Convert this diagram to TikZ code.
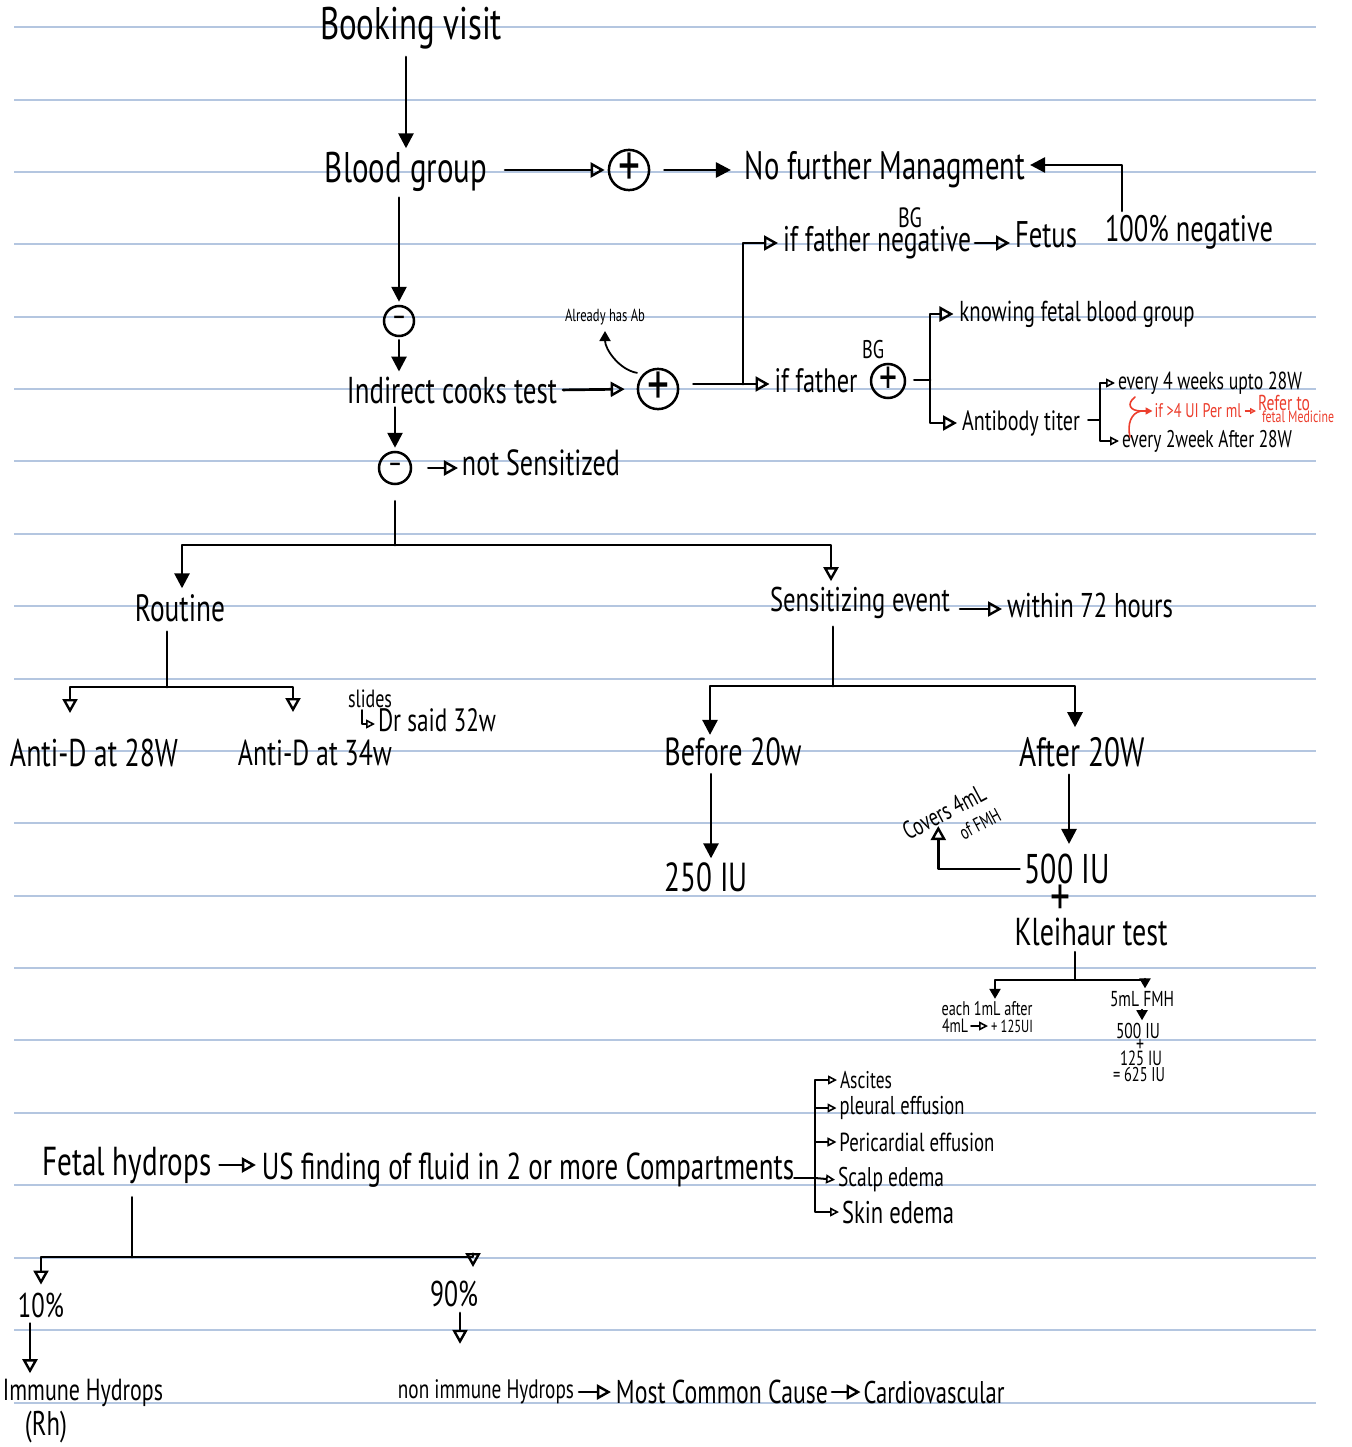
\documentclass[tikz,border=0pt]{standalone}
\usepackage{fontspec}
\usepackage{graphicx}
\usetikzlibrary{arrows.meta,calc}
\newfontfamily\hand[FakeStretch=0.72]{PT Sans}
\newcommand{\tw}[2]{\resizebox{#1pt}{!}{\hand #2}}
\definecolor{rulecol}{RGB}{180,198,224}
\definecolor{redink}{RGB}{236,62,45}
\begin{document}
\begin{tikzpicture}[x=1pt,y=-1pt,
 rule/.style={draw=rulecol,line width=1.2pt},
 ln/.style={line width=2.7pt,line join=round,line cap=round},
 lnthin/.style={line width=1.8pt,line join=round,line cap=round},
 arrF/.style={ln,-{Triangle[length=15pt,width=15pt]}},
 arrO/.style={ln,-{Triangle[open,length=14pt,width=15pt,line width=2.4pt]}},
 arrFs/.style={lnthin,-{Triangle[length=10pt,width=11pt]}},
 arrOs/.style={lnthin,-{Triangle[open,length=9pt,width=9pt,line width=1.6pt]}},
 t/.style={inner sep=0pt,outer sep=0pt},
 circ/.style={circle,draw,line width=2.5pt,inner sep=0pt},
]
\fill[white] (0,0) rectangle (1351,1447);
\useasboundingbox (0,0) rectangle (1351,1447);
\foreach \yy in {27,100,172,244,317,389,461,534,606,679,751,823,896,968,1040,1113,1185,1258,1330,1403}
  \draw[rule] (14,\yy) -- (1316,\yy);

% ---- nodes ----
\node[t] (booking) at (411,28) {\tw{182}{Booking visit}};
\node[t] (blood) at (406,172) {\tw{162}{Blood group}};
\node[circ,minimum size=40pt] (plus1) at (629,170) {\tw{22}{+}};
\node[t] (nofurther) at (885,170) {\tw{280}{No further Managment}};
\node[t] (neg100) at (1189,232) {\tw{168}{100\% negative}};
\node[t] (iffneg) at (877,243) {\tw{188}{if father negative}};
\node[t] (bg1) at (910,218) {\tw{24}{BG}};
\node[t] (fetus) at (1046,235) {\tw{62}{Fetus}};
\node[circ,minimum size=30pt] (minus1) at (399,321) {\tw{15}{–}};
\node[t] (indirect) at (452,390) {\tw{210}{Indirect cooks test}};
\node[circ,minimum size=40pt] (plus2) at (658,389) {\tw{22}{+}};
\node[t] (already) at (605,317) {\tw{80}{Already has Ab}};
\node[t] (iffpos) at (816,381) {\tw{83}{if father}};
\node[circ,minimum size=34pt] (plus3) at (888,381) {\tw{18}{+}};
\node[t] (bg2) at (873,350) {\tw{22}{BG}};
\node[t] (knowing) at (1077,314) {\tw{235}{knowing fetal blood group}};
\node[t] (antibody) at (1021,423) {\tw{118}{Antibody titer}};
\node[t] (every4) at (1210,383) {\tw{184}{every 4 weeks upto 28W}};
\node[t] (every2) at (1207,441) {\tw{170}{every 2week After 28W}};
\node[t,text=redink] (ifgt) at (1198,411) {\tw{87}{if >4 UI Per ml}};
\node[t,text=redink] (refer) at (1284,403) {\tw{52}{Refer to}};
\node[t,text=redink] (fetmed) at (1298,417) {\tw{72}{fetal Medicine}};
\node[circ,minimum size=32pt] (minus2) at (395,468) {\tw{15}{–}};
\node[t] (notsens) at (541,463) {\tw{158}{not Sensitized}};
\node[t] (routine) at (180,608) {\tw{90}{Routine}};
\node[t] (sens) at (860,603) {\tw{180}{Sensitizing event}};
\node[t] (within) at (1090,605) {\tw{166}{within 72 hours}};
\node[t] (antid28) at (94,753) {\tw{168}{Anti-D at 28W}};
\node[t] (antid34) at (315,753) {\tw{154}{Anti-D at 34w}};
\node[t] (slides) at (370,699) {\tw{44}{slides}};
\node[t] (drsaid) at (437,720) {\tw{118}{Dr said 32w}};
\node[t] (before) at (733,752) {\tw{137}{Before 20w}};
\node[t] (after) at (1082,752) {\tw{125}{After 20W}};
\node[t] (iu250) at (706,877) {\tw{83}{250 IU}};
\node[t] (iu500) at (1067,869) {\tw{85}{500 IU}};
\node[t] (plusk) at (1060,900) {\tw{20}{+}};
\node[t] (kleihaur) at (1091,932) {\tw{153}{Kleihaur test}};
\node[t,rotate=28] (covers) at (944,812) {\tw{90}{Covers 4mL}};
\node[t,rotate=28] (ofmh) at (980,824) {\tw{44}{of FMH}};
\node[t] (each1) at (987,1009) {\tw{91}{each 1mL after}};
\node[t] (ml4) at (955,1026) {\tw{26}{4mL}};
\node[t] (u125) at (1012,1026) {\tw{42}{+ 125UI}};
\node[t] (fmh5) at (1142,999) {\tw{64}{5mL FMH}};
\node[t] (iu500b) at (1138,1031) {\tw{44}{500 IU}};
\node[t] (plussm) at (1140,1045) {\tw{8}{+}};
\node[t] (iu125) at (1141,1058) {\tw{42}{125 IU}};
\node[t] (iu625) at (1139,1074) {\tw{52}{= 625 IU}};
\node[t] (fetalhyd) at (127,1165) {\tw{169}{Fetal hydrops}};
\node[t] (usfind) at (528,1170) {\tw{532}{US finding of fluid in 2 or more Compartments}};
\node[t] (ascites) at (866,1080) {\tw{52}{Ascites}};
\node[t] (pleural) at (902,1108) {\tw{125}{pleural effusion}};
\node[t] (pericard) at (917,1142) {\tw{155}{Pericardial effusion}};
\node[t] (scalp) at (891,1180) {\tw{106}{Scalp edema}};
\node[t] (skin) at (898,1212) {\tw{112}{Skin edema}};
\node[t] (p10) at (41,1305) {\tw{46}{10\%}};
\node[t] (p90) at (454,1294) {\tw{48}{90\%}};
\node[t] (immune) at (83,1393) {\tw{160}{Immune Hydrops}};
\node[t] (rh) at (46,1427) {\tw{42}{(Rh)}};
\node[t] (nonimm) at (486,1392) {\tw{176}{non immune Hydrops}};
\node[t] (most) at (722,1392) {\tw{212}{Most Common Cause}};
\node[t] (cardio) at (934,1392) {\tw{141}{Cardiovascular}};

% ---- connectors ----
\draw[arrF,shorten <=8pt,shorten >=4pt] (booking.south -| blood.north) -- (blood.north);
\draw[arrO,shorten <=18pt,shorten >=3pt] (blood.east |- plus1.west) -- (plus1.west);
\draw[arrF,shorten <=14pt,shorten >=14pt] (plus1.east) -- (nofurther.west);
\draw[arrF,shorten <=4pt,shorten >=5pt] ([xshift=-67pt]neg100.north) |- ([yshift=5pt]nofurther.east);
\draw[arrF,shorten <=6pt,shorten >=3pt] (blood.south -| minus1.north) -- (minus1.north);
\draw[arrF,shorten <=3pt,shorten >=5pt] (minus1.south) -- (minus1.south |- indirect.north);
\draw[arrO,shorten <=6pt,shorten >=12pt] (indirect.east) -- (plus2.west);
\draw[arrFs,shorten <=6pt,shorten >=6pt] (plus2.135) to[out=170,in=-90] (already.south);
\coordinate (jf) at (743,384);
\draw[ln,shorten <=14pt] (plus2.east |- jf) -- (jf);
\draw[arrO,shorten >=5pt] (jf) |- (iffneg.west);
\draw[arrO,shorten >=5pt] (jf) -- (jf -| iffpos.west);
\draw[arrO,shorten <=4pt,shorten >=5pt] (iffneg.east) -- (iffneg.east -| fetus.west);
\coordinate (b1) at (930,380);
\draw[ln,shorten <=8pt] (plus3.east |- b1) -- (b1);
\draw[arrO,shorten >=6pt] (b1) |- (knowing.west);
\draw[arrO,shorten >=5pt] (b1) |- (antibody.west);
\coordinate (b2) at (1100,420);
\draw[lnthin,shorten <=8pt] (antibody.east |- b2) -- (b2);
\draw[arrOs,shorten >=3pt] (b2) |- (every4.west);
\draw[arrOs,shorten >=3pt] (b2) |- (every2.west);
\coordinate (rc) at (1141,411);
\draw[redink,line width=1.6pt,line cap=round] (1135,397) .. controls (1126,404) and (1130,411) .. (rc);
\draw[redink,line width=1.6pt,line cap=round] (1130,437) .. controls (1127,424) and (1131,413) .. (rc);
\draw[redink,line width=1.6pt,-{Triangle[length=7pt,width=7pt]},shorten >=2pt] (rc) -- (ifgt.west);
\draw[redink,line width=1.4pt,-{Triangle[open,length=6pt,width=6pt]},shorten <=3pt,shorten >=2pt] (ifgt.east) -- (ifgt.east -| refer.west);
\draw[arrF,shorten <=4pt,shorten >=3pt] (indirect.south -| minus2.north) -- (minus2.north);
\draw[arrO,shorten <=16pt,shorten >=4pt] (minus2.east) -- (minus2.east -| notsens.west);
\coordinate (s1) at (395,545);
\draw[ln,shorten <=16pt] (minus2.south) -- (s1);
\draw[arrF,shorten >=6pt] (s1) -| ([xshift=2pt]routine.north);
\draw[arrO,shorten >=6pt] (s1) -| ([xshift=-29pt]sens.north);
\draw[arrO,shorten <=10pt,shorten >=5pt] ([yshift=-6pt]sens.east) -- ([yshift=-6pt]sens.east -| within.west);
\coordinate (r1) at (167,687);
\draw[ln,shorten <=10pt] (routine.south -| r1) -- (r1);
\draw[arrO,shorten >=26pt] (r1) -| ([xshift=-24pt]antid28.north);
\draw[arrO,shorten >=28pt] (r1) -| ([xshift=-22pt]antid34.north);
\draw[arrOs,shorten <=2pt,shorten >=3pt] ([xshift=-8pt]slides.south) |- ([yshift=-4pt]drsaid.west);
\coordinate (s2) at (833,686);
\draw[ln,shorten <=8pt] (sens.south -| s2) -- (s2);
\draw[arrF,shorten >=3pt] (s2) -| ([xshift=-23pt]before.north);
\draw[arrF,shorten >=10pt] (s2) -| ([xshift=-7pt]after.north);
\draw[arrF,shorten <=8pt,shorten >=4pt] ([xshift=5pt]iu250.north |- before.south) -- ([xshift=5pt]iu250.north);
\draw[arrF,shorten <=8pt,shorten >=10pt] ([xshift=2pt]iu500.north |- after.south) -- ([xshift=2pt]iu500.north);
\draw[arrO,shorten <=5pt,shorten >=6pt] (iu500.west) -| ([xshift=-10pt]covers.south);
\coordinate (k1) at (1075,980);
\draw[ln,line width=2.2pt,shorten <=6pt] (kleihaur.south -| k1) -- (k1);
\draw[arrFs,line width=2.2pt,shorten >=3pt] (k1) -| ([xshift=8pt]each1.north);
\draw[arrFs,line width=2.2pt,shorten >=3pt] (k1) -| ([xshift=3pt]fmh5.north);
\draw[arrFs,shorten <=3pt,shorten >=3pt] (fmh5.south) -- (fmh5.south |- iu500b.north);
\draw[arrOs,shorten <=3pt,shorten >=3pt] (ml4.east) -- (u125.west);
\draw[arrO,shorten <=8pt,shorten >=6pt] (fetalhyd.east) -- (fetalhyd.east -| usfind.west);
\coordinate (b3) at (815,1178);
\draw[lnthin,line width=2pt] (usfind.east |- b3) -- (b3);
\draw[arrOs,line width=2pt,shorten >=3pt] (b3) |- (ascites.west);
\draw[arrOs,line width=2pt,shorten >=3pt] (b3) |- (pleural.west);
\draw[arrOs,line width=2pt,shorten >=3pt] (b3) |- (pericard.west);
\draw[arrOs,line width=2pt,shorten >=3pt] (b3) -- (scalp.west);
\draw[arrOs,line width=2pt,shorten >=3pt] (b3) |- (skin.west);
\coordinate (f1) at (132,1257);
\draw[ln,shorten <=14pt] (fetalhyd.south -| f1) -- (f1);
\draw[arrO,shorten >=8pt] (f1) -| (p10.north);
\draw[arrO,shorten >=14pt] (f1) -| ([xshift=19pt]p90.north);
\draw[arrO,shorten <=6pt,shorten >=6pt] ([xshift=-11pt]p10.south) -- ([xshift=-11pt]p10.south |- immune.north);
\draw[arrO,shorten <=6pt,shorten >=36pt] ([xshift=6pt]p90.south) -- ([xshift=6pt]p90.south |- nonimm.north);
\draw[arrO,shorten <=5pt,shorten >=5pt] (nonimm.east) -- (most.west);
\draw[arrO,shorten <=4pt,shorten >=3pt] (most.east) -- (cardio.west);
\end{tikzpicture}
\end{document}
